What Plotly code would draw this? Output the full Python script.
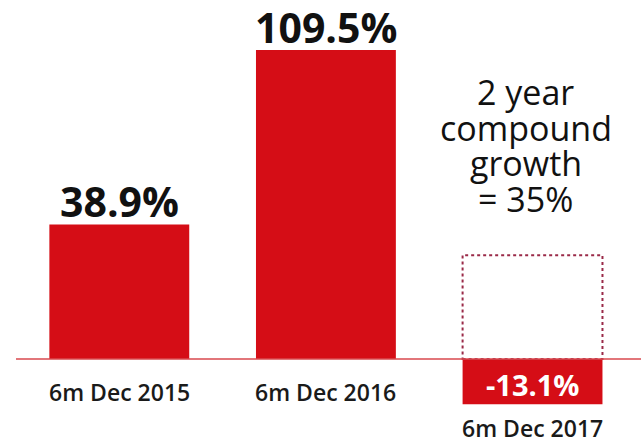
import plotly.graph_objects as go

# Half-year growth by period
periods = ["6m Dec 2015", "6m Dec 2016", "6m Dec 2017"]
growth = [38.9, 109.5, -13.1]
value_labels = ["38.9%", "109.5%", "-13.1%"]

# Reference level drawn as a dotted outline over the latest period
outline_level = 30.0
note_lines = ["2 year", "compound", "growth", "= 35%"]

RED = "#d50d16"
FONT = "Open Sans"

y_top = 89.3
y_bottom = -14.74

fig = go.Figure()
fig.add_trace(go.Bar(
    x=list(range(len(periods))),
    y=growth,
    marker=dict(color=RED, line=dict(width=0)),
    width=0.677,
    hoverinfo="skip",
))

# dotted outline box on the last period
fig.add_shape(
    type="rect", xref="x", yref="y",
    x0=2 - 0.677 / 2, x1=2 + 0.677 / 2, y0=0, y1=outline_level,
    line=dict(color="#9a2a48", width=2, dash="dot"),
    layer="above",
)

# zero line
fig.add_shape(
    type="line", xref="paper", yref="y",
    x0=0, x1=1, y0=0, y1=0,
    line=dict(color="#d9484e", width=1.5),
    layer="above",
)

for i, (v, lab, name) in enumerate(zip(growth, value_labels, periods)):
    if v >= 0:
        fig.add_annotation(
            x=i, y=min(v, y_top - 0.01), xref="x", yref="y",
            text=lab, showarrow=False, yanchor="bottom", yshift=-7,
            font=dict(family=FONT, size=41, color="#111111", weight=700),
        )
        fig.add_annotation(
            x=i, y=0, xref="x", yref="y", text=name, showarrow=False,
            yanchor="top", yshift=-15,
            font=dict(family=FONT, size=23, color="#1a1a1a", weight=600),
        )
    else:
        fig.add_annotation(
            x=i, y=v / 2, xref="x", yref="y",
            text=lab, showarrow=False, yanchor="middle", yshift=-3,
            font=dict(family=FONT, size=29, color="white", weight=700),
        )
        fig.add_annotation(
            x=i, y=v, xref="x", yref="y", text=name, showarrow=False,
            yanchor="top", yshift=-6,
            font=dict(family=FONT, size=23, color="#1a1a1a", weight=600),
        )

for k, line in enumerate(note_lines):
    fig.add_annotation(
        x=2, y=outline_level, xref="x", yref="y", text=line, showarrow=False,
        yanchor="bottom", xshift=-7, yshift=138 - 35.5 * k,
        font=dict(family=FONT, size=34, color="#111111", weight=500),
    )

fig.update_layout(
    width=641, height=444,
    margin=dict(l=16, r=0, t=50, b=34),
    paper_bgcolor="white", plot_bgcolor="white",
    showlegend=False,
    xaxis=dict(range=[-0.5, 2.525], showticklabels=False, showgrid=False,
               zeroline=False, showline=False, ticks=""),
    yaxis=dict(range=[y_bottom, y_top], showticklabels=False, showgrid=False,
               zeroline=False, showline=False, ticks=""),
)

fig.write_html("out.html")
